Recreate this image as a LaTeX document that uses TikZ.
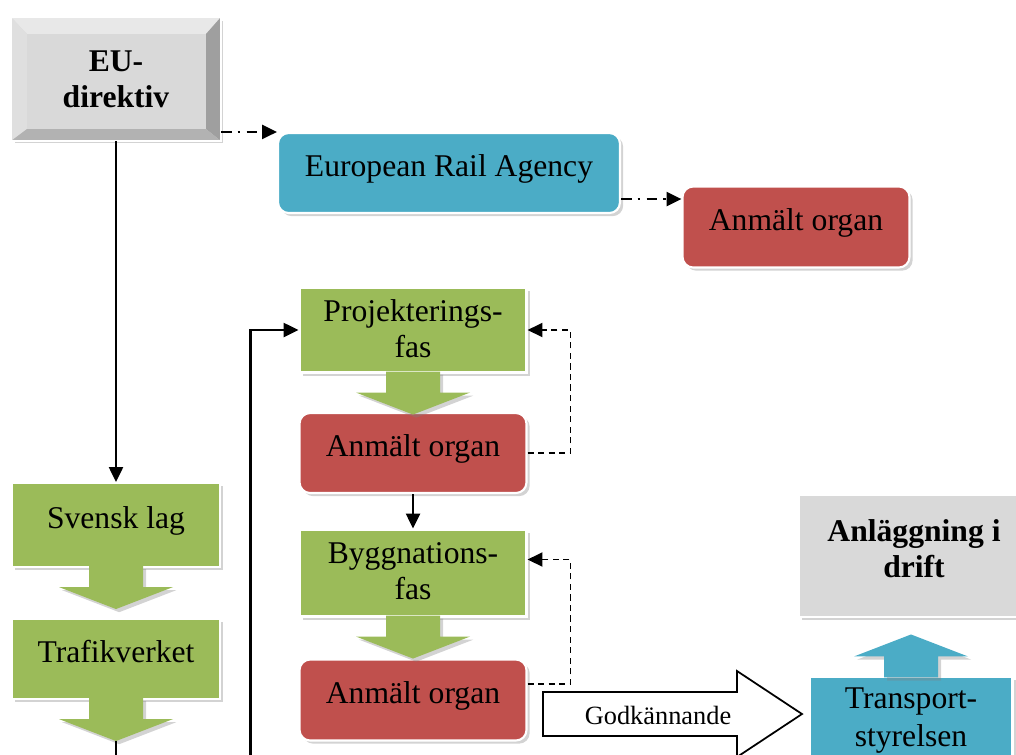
\documentclass[tikz,border=0pt]{standalone}
\usepackage{fontspec}
\setmainfont{Liberation Serif}
\usepackage{tikz}
\usetikzlibrary{positioning,calc,shadows,arrows.meta}
\definecolor{olgreen}{HTML}{9BBB59}
\definecolor{olred}{HTML}{C0504D}
\definecolor{olblue}{HTML}{4BACC6}
\definecolor{olgray}{HTML}{D9D9D9}
\tikzset{boxshadow/.style={drop shadow={shadow xshift=1.8pt,shadow yshift=-1.8pt,opacity=0.35}},
        txt/.style={font=\fontsize{18}{20.5}\selectfont,align=center,inner sep=2pt},
        lifted/.style={text depth=9pt},
        flowbox/.style={txt,boxshadow,draw=white,line width=1.2pt},
        greenbox/.style={flowbox,fill=olgreen},
        redbox/.style={flowbox,lifted,fill=olred,rounded corners=6pt},
        bluebox/.style={flowbox,fill=olblue},
        graybox/.style={flowbox,fill=olgray,font=\fontsize{18}{20.5}\selectfont\bfseries},
        dashdot/.style={dash pattern=on 6pt off 3.5pt on 1.5pt off 3.5pt},
        feedback/.style={dash pattern=on 3.5pt off 2.5pt,line width=1pt}}
% block arrow under (dir=1) or over (dir=-1) a box
\newcommand{\steparrow}[4]{%
  \fill[#3,boxshadow] ($(#1)+(-27,-2*#2)$) -- ($(#1)+(-27,19*#2)$) -- ($(#1)+(-57,19*#2)$)
        -- ($(#1)+(0,41*#2)$) coordinate (#4) -- ($(#1)+(57,19*#2)$) -- ($(#1)+(27,19*#2)$)
        -- ($(#1)+(27,-2*#2)$) -- cycle;
}

\begin{document}
\begin{tikzpicture}[x=0.02cm,y=-0.02cm,>={Triangle[length=8.5pt,width=8pt]},line width=1.3pt]
\useasboundingbox (0,0) rectangle (1016,754);
\clip (0,0) rectangle (1016,754);

\node[graybox,minimum width=4.16cm,minimum height=2.44cm] (eu) at (116,79) {EU-\\direktiv};
\fill[gray!18] (eu.north west) -- (eu.north east) -- ($(eu.north east)+(-15,17)$) -- ($(eu.north west)+(16,17)$) -- cycle;
\fill[gray!25] (eu.north west) -- ($(eu.north west)+(16,17)$) -- ($(eu.south west)+(16,-12)$) -- (eu.south west) -- cycle;
\fill[gray!75] (eu.north east) -- (eu.south east) -- ($(eu.south east)+(-15,-12)$) -- ($(eu.north east)+(-15,17)$) -- cycle;
\fill[gray!60] (eu.south west) -- (eu.south east) -- ($(eu.south east)+(-15,-12)$) -- ($(eu.south west)+(16,-12)$) -- cycle;
\draw[white,line width=1.2pt] (eu.north west) rectangle (eu.south east);

\node[bluebox,lifted,rounded corners=6pt,minimum width=6.84cm,minimum height=1.6cm] (era) at (449,173) {European Rail Agency};
\node[redbox,minimum width=4.54cm,minimum height=1.62cm] (ao1) at (796,227) {Anmält organ};

\node[greenbox,lifted,minimum width=4.16cm,minimum height=1.68cm] (svensk) at (116,525) {Svensk lag};
\node[greenbox,lifted,minimum width=4.16cm,minimum height=1.6cm] (trafik) at (116,659) {Trafikverket};
\steparrow{svensk.south}{1}{olgreen}{svensktip}
\steparrow{trafik.south}{1}{olgreen}{trafiktip}

\node[greenbox,minimum width=4.54cm,minimum height=1.7cm,text depth=2pt] (proj) at (413,330) {Projekterings-\\fas};
\node[redbox,minimum width=4.54cm,minimum height=1.6cm] (ao2) at (413,453) {Anmält organ};
\node[greenbox,minimum width=4.54cm,minimum height=1.74cm,text depth=2pt] (bygg) at (413,573) {Byggnations-\\fas};
\node[redbox,minimum width=4.54cm,minimum height=1.62cm] (ao3) at (413,700) {Anmält organ};
\steparrow{proj.south}{1}{olgreen}{projtip}
\steparrow{bygg.south}{1}{olgreen}{byggtip}

\node[graybox,lifted,minimum width=4.6cm,minimum height=2.44cm] (anl) at (914,556) {Anläggning i\\drift};
\node[bluebox,minimum width=4.06cm,minimum height=1.9cm,text depth=8pt,font=\fontsize{18}{21.5}\selectfont] (trans) at (911,724) {Transport-\\styrelsen};
\steparrow{trans.north}{-1}{olblue}{transtip}

\draw[line width=1pt,fill=white] (543,692) -- (737,692) -- (737,671) -- (802,714)
     -- (737,757) -- (737,736) -- (543,736) -- cycle;
\node[font=\fontsize{15}{18}\selectfont] (godk) at (658,715) {Godkännande};

\draw[dashdot,->] (eu.east |- era.north) -- (era.north west);
\draw[dashdot,->] ([yshift=0.3cm]era.south east) coordinate (p1) -- (p1 -| ao1.west);
\draw[->] (eu) -- (svensk);
\draw[->] (trafiktip) -- ++(0,60) -| ($(proj.west)+(-48,0)$) -- (proj.west);
\draw[->] (ao2) -- (bygg);
\draw[feedback,->] (ao2.east) -- ++(43,0) |- (proj.east);
\draw[feedback,->] ([yshift=0.32cm]ao3.east) -- ++(43,0) |- ([yshift=0.27cm]bygg.east);
\end{tikzpicture}
\end{document}
